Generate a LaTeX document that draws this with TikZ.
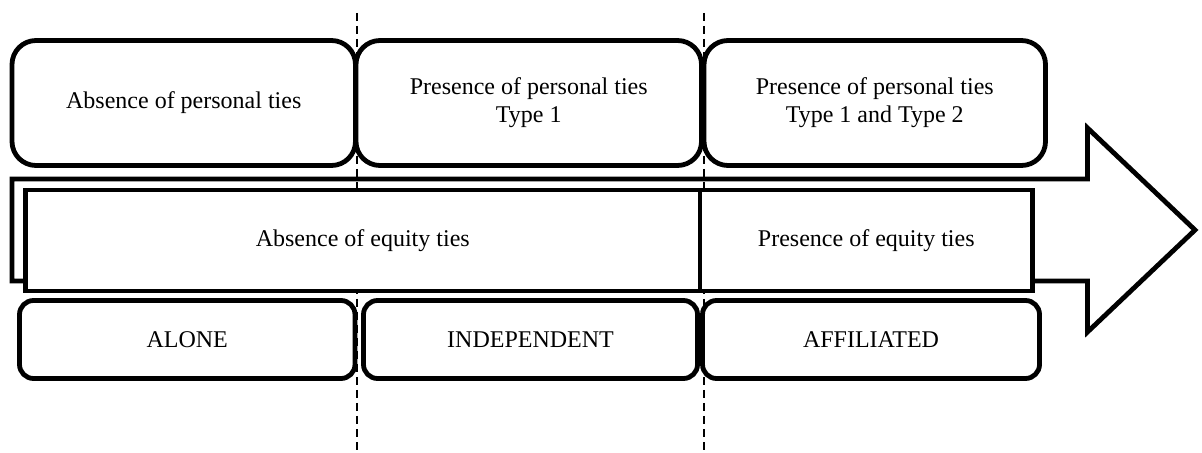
\documentclass[tikz,border=0pt]{standalone}
\usepackage{fontspec}
\setmainfont{Liberation Serif}
\usetikzlibrary{calc}

\begin{document}
\begin{tikzpicture}
    [x=0.5pt, y=-0.5pt,
    %Option for the boxes
    line join=miter, %
    inner sep=0pt, outer sep=0pt,%
    font=\fontsize{12}{14}\selectfont,
    tiebox/.style={draw,fill=white,line width=2.4pt,rounded corners=12pt,
        align=center,minimum height=62.5pt,minimum width=#1},
    equitybox/.style={draw,fill=white,line width=2.4pt,
        align=center,minimum height=50.5pt,minimum width=#1},
    kindbox/.style={draw,fill=white,line width=2.4pt,rounded corners=7pt,
        align=center,minimum height=39pt,minimum width=#1},
    divider/.style={line width=0.75pt,dash pattern=on 4pt off 2.5pt}];

    \useasboundingbox (0,0) rectangle (1202,453);

    % Arrow
    \draw[line width=2.4pt] (12,179) -- (1087.5,179) -- (1087.5,128)
        -- (1195,230) -- (1087.5,332) -- (1087.5,281) -- (12,281) -- cycle;

    % Dividers
    \coordinate (d1top) at (357,13);
    \coordinate (d1bot) at (357,453);
    \coordinate (d2top) at (704,13);
    \coordinate (d2bot) at (704,453);
    \draw[divider] (d1top) -- (d1bot);
    \draw[divider] (d2top) -- (d2bot);

    % Personal ties
    \node[tiebox=171.75pt] (pers1) at (183.75,103) {Absence of personal ties};
    \node[tiebox=172.75pt] (pers2) at (528.75,103) {Presence of personal ties\\Type 1};
    \node[tiebox=170.75pt] (pers3) at (874.75,103) {Presence of personal ties\\Type 1 and Type 2};

    % Equity ties
    \node[equitybox=337.25pt] (equA) at (362.75,240.5) {Absence of equity ties};
    \node[equitybox=166.25pt] (equP) at (866.25,240.5) {Presence of equity ties};

    % Kinds
    \node[kindbox=167.75pt] (alone) at (187.25,339.5) {ALONE};
    \node[kindbox=167pt] (indep) at (530.5,339.5) {INDEPENDENT};
    \node[kindbox=168.5pt] (affil) at (871,339.5) {AFFILIATED};

\end{tikzpicture}
\end{document}
